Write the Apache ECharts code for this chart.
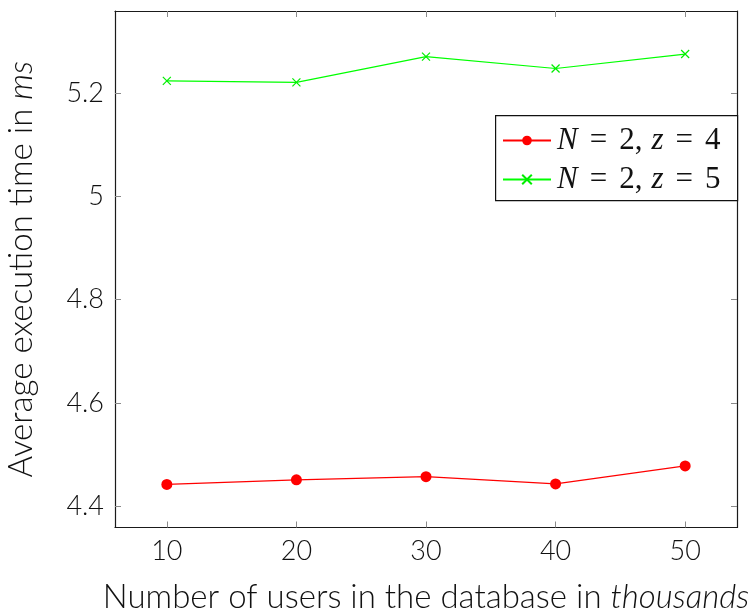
<!DOCTYPE html>
<html>
<head>
<meta charset="utf-8">
<script src="https://cdn.jsdelivr.net/npm/echarts@6/dist/echarts.min.js"></script>
<style>html,body{margin:0;padding:0;background:#fff}#c{width:753px;height:614px}</style>
</head>
<body>
<div id="c"></div>
<script>
const users = [10, 20, 30, 40, 50];
const timeZ4 = [4.442, 4.451, 4.457, 4.443, 4.478];
const timeZ5 = [5.224, 5.221, 5.271, 5.248, 5.276];
const xTicks = [10, 20, 30, 40, 50];
const yTicks = [4.4, 4.6, 4.8, 5.0, 5.2];
const seriesNames = ['N = 2, z = 4', 'N = 2, z = 5'];

const xMin = 6, xMax = 54;
const yMin = 4.3586, yMax = 5.3594;
const font = 'Lato';
const frameColor = '#1a1a1a';
const tickColor = '#8a8a8a';

function axisBase(pos, min, max, ticks, showLabels) {
  return {
    type: 'value', position: pos, min: min, max: max,
    splitLine: { show: false },
    axisLine: { show: true, onZero: false, lineStyle: { color: frameColor, width: 1.2 } },
    axisTick: { show: true, inside: true, length: 6, customValues: ticks, lineStyle: { color: tickColor, width: 1 } },
    axisLabel: { show: showLabels, customValues: ticks }
  };
}

const nameRich = {
  a: { fontFamily: font, fontWeight: 300, fontSize: 33, color: '#111' },
  b: { fontFamily: font, fontWeight: 300, fontStyle: 'italic', fontSize: 33, color: '#111' }
};

const xBottom = axisBase('bottom', xMin, xMax, xTicks, true);
xBottom.axisLabel = { show: true, customValues: xTicks, fontFamily: font, fontWeight: 300, fontSize: 27, color: '#111', margin: 10 };
xBottom.name = '{a|Number of users in the database in }{b|thousands}';
xBottom.nameLocation = 'middle';
xBottom.nameGap = 53;
xBottom.nameTextStyle = { rich: nameRich };

const yLeft = axisBase('left', yMin, yMax, yTicks, true);
yLeft.axisLabel = { show: true, customValues: yTicks, fontFamily: font, fontWeight: 300, fontSize: 27, color: '#111', margin: 11,
  formatter: v => String(Number(v.toFixed(1))) };
yLeft.name = '{a|Average execution time in }{b|ms}';
yLeft.nameLocation = 'middle';
yLeft.nameRotate = 90;
yLeft.nameGap = 77;
yLeft.nameTextStyle = { rich: nameRich };

const xTop = axisBase('top', xMin, xMax, xTicks, false);
const yRight = axisBase('right', yMin, yMax, yTicks, false);

const serif = 'Liberation Serif';
const legendRich = {
  i: { fontFamily: serif, fontStyle: 'italic', fontSize: 31, color: '#111' },
  z: { fontFamily: serif, fontStyle: 'italic', fontSize: 31, color: '#111', padding: [0, 0, 0, 9] },
  e: { fontFamily: serif, fontSize: 31, color: '#111', padding: [0, 12, 0, 12] },
  r: { fontFamily: serif, fontSize: 31, color: '#111' }
};

const chart = echarts.init(document.getElementById('c'), null, { renderer: 'canvas' });
chart.setOption({
  animation: false,
  backgroundColor: '#fff',
  grid: { left: 115, top: 11, width: 622, height: 516.5, containLabel: false, outerBoundsMode: 'none' },
  xAxis: [xBottom, xTop],
  yAxis: [yLeft, yRight],
  graphic: [{
    type: 'rect', z: 50, left: 495, top: 115,
    shape: { width: 242, height: 85 },
    style: { fill: '#fff', stroke: '#111', lineWidth: 1.2 }
  }],
  legend: {
    z: 60,
    left: 502, top: 125, orient: 'vertical', itemGap: 8, padding: 0,
    itemWidth: 48, itemHeight: 12,
    data: seriesNames,
    textStyle: { rich: legendRich, padding: [0, 0, 0, 1] },
    formatter: name => {
      const m = name.match(/N = (\d), z = (\d)/);
      return '{i|N}{e|=}{r|' + m[1] + ',}{z|z}{e|=}{r|' + m[2] + '}';
    }
  },
  series: [{
    name: seriesNames[0], type: 'line', xAxisIndex: 0, yAxisIndex: 0,
    data: users.map((u, i) => [u, timeZ4[i]]),
    symbol: 'circle', symbolSize: 11,
    lineStyle: { color: '#ff0000', width: 1.2 },
    itemStyle: { color: '#ff0000' }
  }, {
    name: seriesNames[1], type: 'line', xAxisIndex: 0, yAxisIndex: 0,
    data: users.map((u, i) => [u, timeZ5[i]]),
    symbol: 'path://M0,0L10,10M10,0L0,10', symbolSize: 8,
    lineStyle: { color: '#00ff00', width: 1.2 },
    itemStyle: { color: 'rgba(0,0,0,0)', borderColor: '#00ee00', borderWidth: 1.2 }
  }]
});
</script>
</body>
</html>
